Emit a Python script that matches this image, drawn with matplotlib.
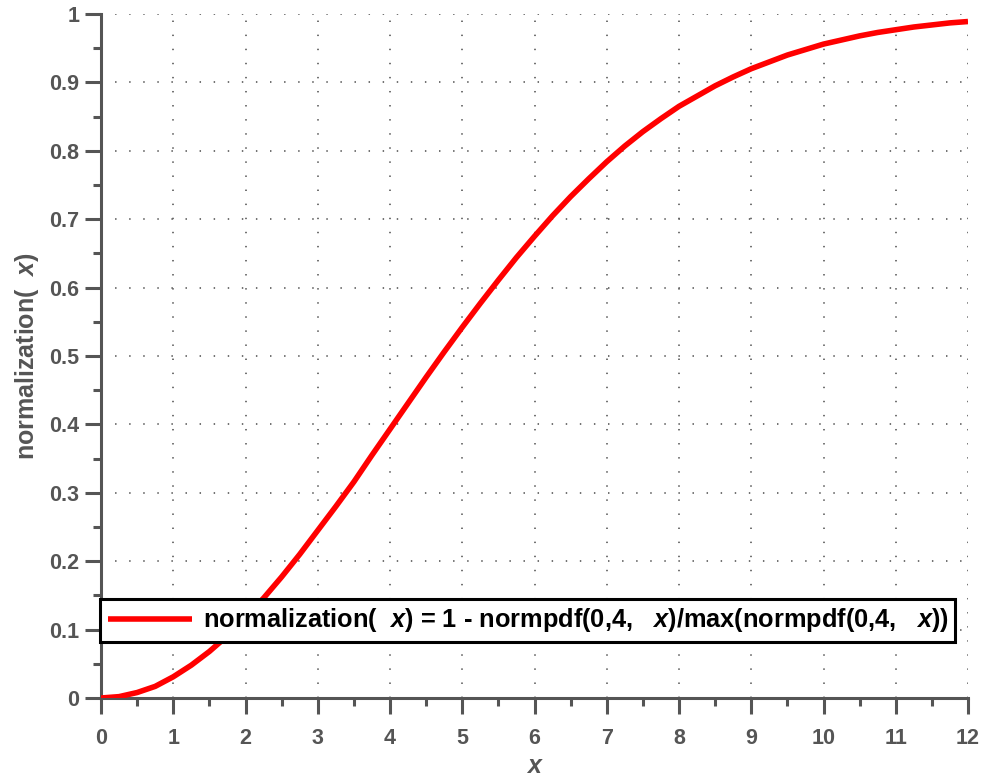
import numpy as np
import matplotlib
matplotlib.use("Agg")
import matplotlib.pyplot as plt
from matplotlib.ticker import MultipleLocator, FormatStrFormatter

# values, every 0.25 on x
x_vals = [0, 0.25, 0.5, 0.75, 1, 1.25, 1.5, 1.75, 2, 2.25, 2.5, 2.75, 3,
          3.25, 3.5, 3.75, 4, 4.25, 4.5, 4.75, 5, 5.25, 5.5, 5.75, 6,
          6.25, 6.5, 6.75, 7, 7.25, 7.5, 7.75, 8, 8.25, 8.5, 8.75, 9,
          9.25, 9.5, 9.75, 10, 10.25, 10.5, 10.75, 11, 11.25, 11.5, 11.75, 12]
y_vals = [0.0, 0.002, 0.008, 0.017, 0.031, 0.048, 0.068, 0.091, 0.118,
          0.146, 0.177, 0.210, 0.245, 0.280, 0.316, 0.355, 0.393, 0.431,
          0.469, 0.506, 0.542, 0.577, 0.611, 0.644, 0.675, 0.705, 0.733,
          0.759, 0.784, 0.807, 0.828, 0.847, 0.865, 0.880, 0.895, 0.908,
          0.920, 0.930, 0.940, 0.948, 0.956, 0.962, 0.968, 0.973, 0.977,
          0.981, 0.984, 0.987, 0.989]

x_label = r"$\mathit{x}$"
y_label = r"normalization(  $\mathit{x}$)"
legend_label = (r"normalization(  $\mathit{x}$) = 1 - normpdf(0,4,   $\mathit{x}$)"
                r"/max(normpdf(0,4,   $\mathit{x}$))")

plt.rcParams['font.family'] = ['Liberation Sans', 'DejaVu Sans']
plt.rcParams['font.weight'] = 'bold'
plt.rcParams['mathtext.fontset'] = 'custom'
plt.rcParams['mathtext.rm'] = 'Liberation Sans:bold'
plt.rcParams['mathtext.it'] = 'Liberation Sans:italic:bold'

gray = '#555555'

fig = plt.figure(figsize=(9.85, 7.8), dpi=100)
ax = fig.add_axes([101 / 985, 1 - 698 / 780, 867 / 985, 684 / 780])

ax.plot(x_vals, y_vals, color='#ff0000', lw=4.0, label=legend_label,
        solid_capstyle='butt', solid_joinstyle='round', zorder=3)

ax.set_xlim(0, 12)
ax.set_ylim(0, 1)
ax.xaxis.set_major_locator(MultipleLocator(1))
ax.xaxis.set_minor_locator(MultipleLocator(0.5))
ax.yaxis.set_major_locator(MultipleLocator(0.1))
ax.yaxis.set_minor_locator(MultipleLocator(0.05))
ax.yaxis.set_major_formatter(FormatStrFormatter('%g'))

ax.grid(True, which='major', color='#666666', linestyle=(0, (0.8, 7)), lw=1.3)

for side in ['top', 'right']:
    ax.spines[side].set_visible(False)
for side in ['left', 'bottom']:
    ax.spines[side].set_color(gray)
    ax.spines[side].set_linewidth(2.2)

ax.tick_params(which='major', direction='out', length=11.5, width=2.2,
               color=gray, labelcolor=gray, labelsize=15.5)
ax.tick_params(which='minor', direction='out', length=5.5, width=2.2, color=gray)
ax.tick_params(axis='x', which='major', pad=10)
ax.tick_params(axis='y', which='major', pad=4)

ax.set_xlabel(x_label, fontsize=18, color=gray, labelpad=4)
ax.set_ylabel(y_label, fontsize=18, color=gray, fontweight='bold', labelpad=6)

leg = ax.legend(loc='center', mode='expand',
                bbox_to_anchor=(100 / 985, 1 - 645 / 780, 855 / 985, 49 / 780),
                bbox_transform=fig.transFigure,
                prop={'size': 18.3, 'weight': 'bold'}, handlelength=3.3,
                handletextpad=0.45, borderpad=0.3, borderaxespad=0,
                fancybox=False, framealpha=1)
leg.get_frame().set_edgecolor('black')
leg.get_frame().set_linewidth(2.2)
leg.set_zorder(5)

fig.savefig('out.png', dpi=100)
